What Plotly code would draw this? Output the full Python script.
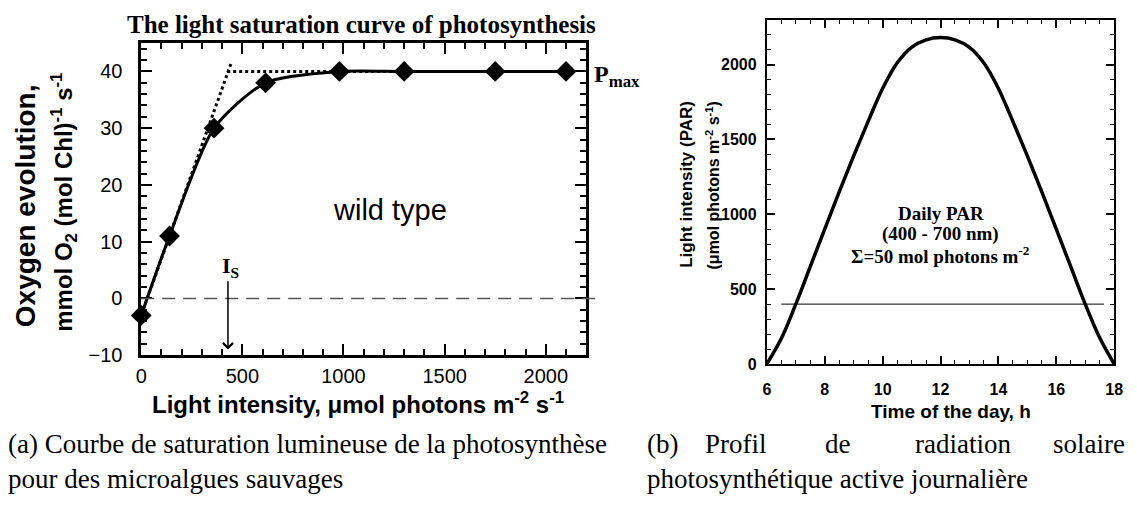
import plotly.graph_objects as go

# ---------------- data: (a) light saturation curve ----------------
light_intensity = [0, 140, 360, 615, 980, 1300, 1750, 2100]
oxygen_evolution = [-3, 11, 30, 38, 40, 40, 40, 40]
initial_slope_x = [0, 445]
initial_slope_y = [-3, 41.5]
pmax_x = [425, 2100]
pmax_y = [40, 40]
is_value = 429

# ---------------- data: (b) daily PAR profile ----------------
time_h = [6, 6.5, 7, 7.5, 8, 8.5, 9, 9.5, 10, 10.5, 11, 11.5, 12,
          12.5, 13, 13.5, 14, 14.5, 15, 15.5, 16, 16.5, 17, 17.5, 18]
par = [0, 170, 400, 650, 900, 1150, 1390, 1620, 1840, 2010, 2115, 2165, 2180,
       2165, 2115, 2010, 1840, 1620, 1390, 1150, 900, 650, 400, 175, 0]
threshold_x = [6.5, 17.65]
threshold_y = [400, 400]

W, H = 1137, 512
def px(x): return x / W
def py(y): return 1 - y / H

SANS = "Liberation Sans, Arial, sans-serif"
SERIF = "Liberation Serif, Times New Roman, serif"

fig = go.Figure()

# (a) traces
fig.add_trace(go.Scatter(x=initial_slope_x, y=initial_slope_y, mode="lines",
                         line=dict(color="black", width=3, dash="dot"),
                         xaxis="x", yaxis="y", showlegend=False))
fig.add_trace(go.Scatter(x=pmax_x, y=pmax_y, mode="lines",
                         line=dict(color="black", width=3, dash="dot"),
                         xaxis="x", yaxis="y", showlegend=False))
fig.add_trace(go.Scatter(x=light_intensity, y=oxygen_evolution, mode="lines+markers",
                         line=dict(color="black", width=3, shape="spline", smoothing=0.7),
                         marker=dict(symbol="diamond", size=16, color="black"),
                         cliponaxis=False, xaxis="x", yaxis="y", showlegend=False))

# (b) traces
fig.add_trace(go.Scatter(x=threshold_x, y=threshold_y, mode="lines",
                         line=dict(color="black", width=1),
                         xaxis="x2", yaxis="y2", showlegend=False))
fig.add_trace(go.Scatter(x=time_h, y=par, mode="lines",
                         line=dict(color="black", width=3.5, shape="spline", smoothing=1),
                         xaxis="x2", yaxis="y2", showlegend=False))

axis_common = dict(showgrid=False, zeroline=False, showline=True, linecolor="black",
                   mirror="allticks", ticks="inside", tickcolor="black", tickmode="linear")

fig.update_layout(
    width=W, height=H, autosize=False,
    margin=dict(l=0, r=0, t=0, b=0),
    paper_bgcolor="white", plot_bgcolor="white",
    xaxis=dict(**axis_common, domain=[px(137), px(588)], range=[0, 2200],
               tick0=0, dtick=500, ticklen=11, tickwidth=2, linewidth=2.5,
               minor=dict(dtick=100, ticklen=6, tickwidth=1.5, ticks="inside", tickcolor="black"),
               tickfont=dict(family=SANS, size=20, color="black"),
               ticklabelstandoff=1, anchor="y"),
    yaxis=dict(**axis_common, domain=[py(363), py(44)], range=[-10, 45],
               tick0=-10, dtick=10, ticklen=11, tickwidth=2, linewidth=2.5,
               minor=dict(dtick=2, ticklen=6, tickwidth=1.5, ticks="inside", tickcolor="black"),
               tickfont=dict(family=SANS, size=20, color="black"),
               ticklabelstandoff=12, anchor="x"),
    xaxis2=dict(**axis_common, domain=[px(771), px(1123)], range=[6, 18],
                tick0=6, dtick=2, ticklen=8, tickwidth=1.5, linewidth=2,
                minor=dict(dtick=0.5, ticklen=4, tickwidth=1.2, ticks="inside", tickcolor="black"),
                tickfont=dict(family=SANS, size=16, color="black", weight="bold"),
                ticklabelstandoff=10, anchor="y2"),
    yaxis2=dict(**axis_common, domain=[py(372), py(20)], range=[0, 2300],
                tick0=0, dtick=500, ticklen=8, tickwidth=1.5, linewidth=2,
                minor=dict(dtick=100, ticklen=4, tickwidth=1.2, ticks="inside", tickcolor="black"),
                tickfont=dict(family=SANS, size=16, color="black", weight="bold"),
                ticklabelstandoff=5, anchor="x2"),
)

# dashed zero line (extends slightly beyond right axis)
fig.add_shape(type="line", xref="paper", yref="y", x0=px(137), x1=px(598), y0=0, y1=0,
              line=dict(color="#555555", width=1.5, dash="13px,8px"))

ann = []
# (a) annotations
ann.append(dict(text="<b>The light saturation curve of photosynthesis</b>", xref="paper", yref="paper",
                x=px(360), y=py(25), xanchor="center", yanchor="middle", showarrow=False,
                font=dict(family=SERIF, size=25, color="black")))
ann.append(dict(text="<b>Oxygen evolution,</b>", xref="paper", yref="paper", textangle=-90,
                x=px(20), y=py(210), xanchor="center", yanchor="middle", showarrow=False,
                font=dict(family=SANS, size=28, color="black")))
ann.append(dict(text="<b>mmol O<sub>2</sub> (mol Chl)<sup>-1</sup> s<sup>-1</sup></b>", xref="paper", yref="paper",
                textangle=-90, x=px(58), y=py(207), xanchor="center", yanchor="middle", showarrow=False,
                font=dict(family=SANS, size=24, color="black")))
ann.append(dict(text="<b>Light intensity, μmol photons m<sup>-2</sup> s<sup>-1</sup></b>", xref="paper", yref="paper",
                x=px(357), y=py(412), xanchor="center", yanchor="middle", showarrow=False,
                font=dict(family=SANS, size=24, color="black")))
ann.append(dict(text="wild type", xref="x", yref="y", x=1229, y=15.5,
                xanchor="center", yanchor="middle", showarrow=False,
                font=dict(family=SANS, size=29, color="black")))
ann.append(dict(text="<b>I<sub>S</sub></b>", xref="x", yref="y", x=is_value + 10, y=5.5,
                xanchor="center", yanchor="middle", showarrow=False,
                font=dict(family=SERIF, size=22, color="black")))
ann.append(dict(text="<b>P<sub>max</sub></b>", xref="paper", yref="paper", x=px(594), y=py(60),
                xanchor="left", yanchor="top", showarrow=False,
                font=dict(family=SERIF, size=24, color="black")))
ann.append(dict(text="", xref="x", yref="y", x=is_value, y=-9, axref="x", ayref="y",
                ax=is_value, ay=3.3, showarrow=True, arrowhead=4, arrowsize=1.3,
                arrowwidth=1.5, arrowcolor="black"))

# (b) annotations
for txt, yy in [("<b>Daily PAR</b>", 218), ("<b>(400 - 700 nm)</b>", 239),
                ("<b>Σ=50 mol photons m<sup>-2</sup></b>", 261)]:
    ann.append(dict(text=txt, xref="paper", yref="paper", x=px(947), y=py(yy),
                    xanchor="center", yanchor="middle", showarrow=False,
                    font=dict(family=SERIF, size=19, color="black")))
ann.append(dict(text="<b>Light intensity (PAR)</b>", xref="paper", yref="paper", textangle=-90,
                x=px(690), y=py(188), xanchor="center", yanchor="middle", showarrow=False,
                font=dict(family=SANS, size=17, color="black")))
ann.append(dict(text="<b>(μmol photons m<sup>-2</sup> s<sup>-1</sup>)</b>", xref="paper", yref="paper",
                textangle=-90, x=px(716), y=py(190), xanchor="center", yanchor="middle", showarrow=False,
                font=dict(family=SANS, size=16, color="black")))
ann.append(dict(text="<b>Time of the day, h</b>", xref="paper", yref="paper",
                x=px(958), y=py(421), xanchor="center", yanchor="middle", showarrow=False,
                font=dict(family=SANS, size=19, color="black")))

# captions
CAP = dict(family=SERIF, size=27, color="black")
ann.append(dict(text="(a) Courbe de saturation lumineuse de la photosynthèse", xref="paper", yref="paper",
                x=px(0), y=py(454), xanchor="left", yanchor="middle", showarrow=False, font=CAP))
ann.append(dict(text="pour des microalgues sauvages", xref="paper", yref="paper",
                x=px(0), y=py(490), xanchor="left", yanchor="middle", showarrow=False, font=CAP))
for word, xx, anchor in [("(b)", 648, "left"), ("Profil", 706, "left"), ("de", 828, "left"),
                         ("radiation", 919, "left"), ("solaire", 1136, "right")]:
    ann.append(dict(text=word, xref="paper", yref="paper", x=px(xx), y=py(454),
                    xanchor=anchor, yanchor="middle", showarrow=False, font=CAP))
ann.append(dict(text="photosynthétique active journalière", xref="paper", yref="paper",
                x=px(648), y=py(490), xanchor="left", yanchor="middle", showarrow=False, font=CAP))

fig.update_layout(annotations=ann)

page_fix = (
    "var d=document.documentElement.style;d.margin='0';d.padding='0';d.overflow='hidden';"
    "var b=document.body.style;b.margin='0';b.padding='0';b.overflow='hidden';"
    "b.width='1137px';b.height='512px';b.lineHeight='0';"
)
fig.write_html("out.html", config={"displayModeBar": False}, post_script=page_fix)
